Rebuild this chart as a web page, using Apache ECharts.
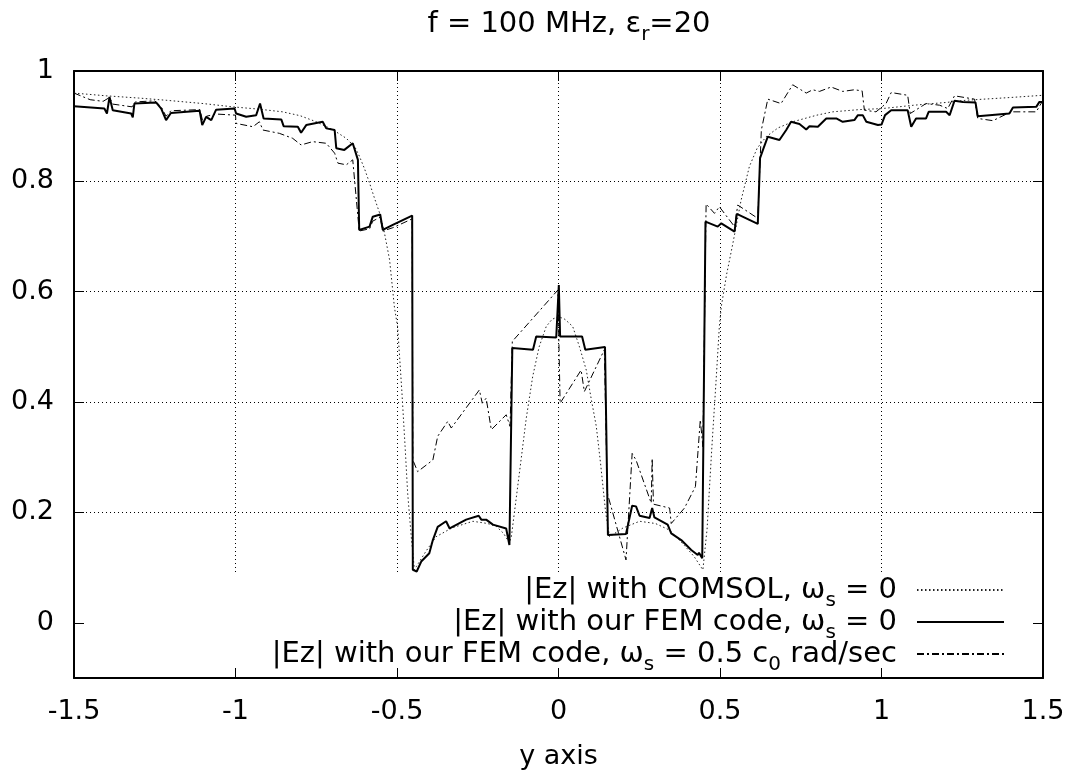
<!DOCTYPE html>
<html>
<head>
<meta charset="utf-8">
<title>|Ez| f = 100 MHz</title>
<script src="https://cdn.jsdelivr.net/npm/echarts@6/dist/echarts.min.js"></script>
<style>
  html, body { margin: 0; background: #fff; }
  #chart { width: 1077px; height: 782px; }
</style>
</head>
<body>
<div id="chart"></div>
<script>
const FONT = 'DejaVu Sans'

const xTicks = [-1.5, -1, -0.5, 0, 0.5, 1, 1.5]
const yTicks = [0, 0.2, 0.4, 0.6, 0.8, 1]

// |Ez| with COMSOL, omega_s = 0 (dotted)
const comsolPts = [
  [-1.5, 0.960], [-1.4, 0.955], [-1.3, 0.951], [-1.215, 0.947], [-1.1, 0.941], [-1.008, 0.935],
  [-0.93, 0.931], [-0.854, 0.926], [-0.8, 0.919], [-0.75, 0.908], [-0.7, 0.894], [-0.657, 0.878],
  [-0.63, 0.862], [-0.616, 0.845], [-0.6, 0.822], [-0.585, 0.797], [-0.57, 0.77], [-0.554, 0.743],
  [-0.54, 0.71], [-0.523, 0.658], [-0.508, 0.572], [-0.498, 0.536], [-0.485, 0.42], [-0.475, 0.32],
  [-0.467, 0.235], [-0.455, 0.15], [-0.446, 0.096], [-0.44, 0.102], [-0.41, 0.13], [-0.379, 0.156],
  [-0.33, 0.172], [-0.265, 0.184], [-0.22, 0.18], [-0.193, 0.175], [-0.17, 0.162], [-0.152, 0.145],
  [-0.146, 0.156], [-0.13, 0.23], [-0.116, 0.295], [-0.1, 0.37], [-0.08, 0.446], [-0.06, 0.50],
  [-0.038, 0.537], [-0.02, 0.55], [0, 0.555], [0.02, 0.55], [0.044, 0.537], [0.065, 0.50],
  [0.086, 0.458], [0.1, 0.41], [0.117, 0.356], [0.13, 0.29], [0.146, 0.2], [0.158, 0.156],
  [0.2, 0.172], [0.251, 0.184], [0.3, 0.18], [0.344, 0.168], [0.39, 0.14], [0.42, 0.12],
  [0.447, 0.096], [0.46, 0.17], [0.475, 0.32], [0.488, 0.44], [0.498, 0.537], [0.504, 0.573],
  [0.52, 0.63], [0.54, 0.688], [0.565, 0.765], [0.591, 0.827], [0.615, 0.86], [0.643, 0.881],
  [0.68, 0.897], [0.725, 0.908], [0.8, 0.92], [0.849, 0.926], [0.93, 0.93], [1.004, 0.932],
  [1.1, 0.938], [1.2, 0.943], [1.262, 0.947], [1.4, 0.952], [1.5, 0.956]
]

// |Ez| with our FEM code, omega_s = 0 (solid)
const femPts = [
  [-1.5, 0.936], [-1.406, 0.932], [-1.398, 0.923], [-1.39, 0.953], [-1.38, 0.929], [-1.323, 0.923],
  [-1.318, 0.916], [-1.313, 0.941], [-1.246, 0.943], [-1.23, 0.932], [-1.215, 0.911], [-1.2, 0.924],
  [-1.111, 0.928], [-1.103, 0.902], [-1.091, 0.917], [-1.075, 0.911], [-1.06, 0.930], [-1.003, 0.932],
  [-0.998, 0.923], [-0.967, 0.917], [-0.936, 0.920], [-0.924, 0.941], [-0.913, 0.914], [-0.858, 0.912],
  [-0.851, 0.900], [-0.807, 0.899], [-0.797, 0.888], [-0.781, 0.902], [-0.73, 0.908], [-0.719, 0.896],
  [-0.693, 0.893], [-0.688, 0.860], [-0.663, 0.857], [-0.637, 0.869], [-0.621, 0.839], [-0.617, 0.712],
  [-0.585, 0.718], [-0.575, 0.736], [-0.552, 0.740], [-0.544, 0.712], [-0.513, 0.721], [-0.453, 0.738],
  [-0.451, 0.096], [-0.439, 0.093], [-0.425, 0.111], [-0.4, 0.126], [-0.389, 0.15], [-0.374, 0.174],
  [-0.348, 0.184], [-0.337, 0.171], [-0.286, 0.187], [-0.247, 0.194], [-0.239, 0.187], [-0.224, 0.187],
  [-0.203, 0.178], [-0.162, 0.171], [-0.152, 0.141], [-0.143, 0.498], [-0.079, 0.495], [-0.069, 0.519],
  [-0.007, 0.517], [0.001, 0.612], [0.005, 0.519], [0.073, 0.519], [0.083, 0.495], [0.144, 0.5],
  [0.153, 0.159], [0.209, 0.161], [0.228, 0.212], [0.24, 0.211], [0.251, 0.194], [0.282, 0.19],
  [0.29, 0.208], [0.297, 0.191], [0.338, 0.178], [0.349, 0.162], [0.38, 0.15], [0.411, 0.132],
  [0.431, 0.123], [0.435, 0.127], [0.445, 0.117], [0.455, 0.727], [0.493, 0.718], [0.504, 0.724],
  [0.545, 0.709], [0.552, 0.741], [0.617, 0.723], [0.624, 0.842], [0.633, 0.857], [0.648, 0.881],
  [0.684, 0.875], [0.705, 0.893], [0.72, 0.908], [0.746, 0.904], [0.767, 0.894], [0.777, 0.9],
  [0.803, 0.899], [0.829, 0.914], [0.86, 0.914], [0.88, 0.908], [0.916, 0.911], [0.927, 0.92],
  [0.942, 0.92], [0.953, 0.908], [0.989, 0.902], [1.0, 0.903], [1.011, 0.92], [1.03, 0.929],
  [1.081, 0.929], [1.092, 0.899], [1.107, 0.914], [1.138, 0.914], [1.146, 0.926], [1.2, 0.926],
  [1.211, 0.92], [1.226, 0.946], [1.252, 0.944], [1.291, 0.943], [1.298, 0.918], [1.334, 0.92],
  [1.396, 0.923], [1.407, 0.934], [1.479, 0.935], [1.489, 0.944], [1.5, 0.944]
]

// |Ez| with our FEM code, omega_s = 0.5 c0 rad/sec (dash-dot)
const femSpinPts = [
  [-1.5, 0.96], [-1.45, 0.948], [-1.41, 0.945], [-1.39, 0.952], [-1.38, 0.94], [-1.32, 0.935],
  [-1.31, 0.944], [-1.25, 0.946], [-1.23, 0.935], [-1.215, 0.918], [-1.2, 0.928], [-1.11, 0.93],
  [-1.1, 0.905], [-1.09, 0.918], [-1.06, 0.922], [-1.0, 0.92], [-0.998, 0.905], [-0.946, 0.899],
  [-0.926, 0.908], [-0.915, 0.893], [-0.864, 0.887], [-0.823, 0.878], [-0.797, 0.866], [-0.761, 0.872],
  [-0.719, 0.869], [-0.693, 0.851], [-0.683, 0.833], [-0.657, 0.83], [-0.637, 0.839], [-0.632, 0.839],
  [-0.617, 0.71], [-0.585, 0.714], [-0.575, 0.728], [-0.552, 0.735], [-0.544, 0.71], [-0.513, 0.716],
  [-0.453, 0.732], [-0.451, 0.295], [-0.436, 0.274], [-0.389, 0.295], [-0.374, 0.338], [-0.343, 0.365],
  [-0.332, 0.353], [-0.245, 0.422], [-0.236, 0.398], [-0.224, 0.407], [-0.208, 0.35], [-0.162, 0.377],
  [-0.15, 0.356], [-0.143, 0.51], [-0.002, 0.603], [0.005, 0.398], [0.07, 0.458], [0.08, 0.419],
  [0.142, 0.495], [0.151, 0.235], [0.209, 0.114], [0.228, 0.307], [0.24, 0.295], [0.287, 0.217],
  [0.29, 0.298], [0.294, 0.215], [0.344, 0.208], [0.349, 0.18], [0.39, 0.208], [0.424, 0.247],
  [0.439, 0.368], [0.447, 0.319], [0.457, 0.759], [0.483, 0.742], [0.498, 0.754], [0.545, 0.718],
  [0.555, 0.757], [0.617, 0.733], [0.628, 0.893], [0.648, 0.949], [0.689, 0.941], [0.725, 0.975],
  [0.767, 0.96], [0.787, 0.966], [0.808, 0.963], [0.844, 0.971], [0.88, 0.963], [0.916, 0.966],
  [0.94, 0.964], [0.947, 0.929], [0.983, 0.926], [1.014, 0.941], [1.03, 0.961], [1.081, 0.956],
  [1.089, 0.923], [1.138, 0.941], [1.18, 0.938], [1.205, 0.932], [1.226, 0.955], [1.288, 0.949],
  [1.298, 0.914], [1.345, 0.91], [1.401, 0.926], [1.479, 0.926], [1.5, 0.947]
]

const subStyle = { fontFamily: FONT, fontSize: 20, color: '#000', lineHeight: 32, padding: [22, 0, 0, 0] }

// one legend per row so every sample line ends at the same x
function keyRow (name, top, label) {
  return {
    data: [name],
    top: top,
    right: 72,
    orient: 'vertical',
    align: 'right',
    padding: 0,
    itemWidth: 87,
    itemHeight: 14,
    selectedMode: false,
    itemStyle: { opacity: 0 }, // line only, no symbol
    formatter: function () { return label },
    textStyle: {
      fontFamily: FONT,
      fontSize: 29,
      color: '#000',
      lineHeight: 32,
      rich: {
        sub: subStyle,
        gap: { width: 15 }
      }
    }
  }
}

const gridLine = { show: true, lineStyle: { color: '#000', type: [1, 3], width: 1 } }
const frame = { show: true, onZero: false, lineStyle: { color: '#000', width: 2 } }
const tick = { show: true, inside: true, length: 10, lineStyle: { color: '#000', width: 1 } }
const tickFont = { fontFamily: FONT, fontSize: 27, color: '#000' }

const option = {
  animation: false,
  backgroundColor: '#fff',
  title: {
    text: 'f = 100 MHz, ε{sub|r}=20',
    left: 564,
    textAlign: 'center',
    top: 3,
    textStyle: {
      fontFamily: FONT,
      fontSize: 29,
      fontWeight: 'normal',
      color: '#000',
      lineHeight: 32,
      rich: { sub: subStyle }
    }
  },
  grid: { left: 74, right: 34, top: 71, bottom: 104, containLabel: false },
  legend: [
    keyRow('comsol', 569, '|Ez| with COMSOL, ω{sub|s} = 0{gap|}'),
    keyRow('fem', 601, '|Ez| with our FEM code, ω{sub|s} = 0{gap|}'),
    keyRow('femSpin', 633, '|Ez| with our FEM code, ω{sub|s} = 0.5 c{sub|0} rad/sec{gap|}')
  ],
  graphic: [
    // opaque key box, hides the grid behind the legend like gnuplot does
    { type: 'rect', left: 85, top: 572, z: 1, shape: { width: 948, height: 96 }, style: { fill: '#fff' } }
  ],
  xAxis: [
    {
      type: 'value',
      min: xTicks[0],
      max: xTicks[xTicks.length - 1],
      interval: 0.5,
      position: 'bottom',
      name: 'y axis',
      nameLocation: 'middle',
      nameGap: 65,
      nameTextStyle: tickFont,
      axisLine: frame,
      axisTick: tick,
      axisLabel: { ...tickFont, margin: 20, formatter: v => String(v) },
      splitLine: gridLine
    },
    {
      type: 'value',
      min: xTicks[0],
      max: xTicks[xTicks.length - 1],
      interval: 0.5,
      position: 'top',
      axisLine: frame,
      axisTick: tick,
      axisLabel: { show: false },
      splitLine: { show: false }
    }
  ],
  yAxis: [
    {
      type: 'value',
      min: -0.1,
      max: 1,
      position: 'left',
      axisLine: frame,
      axisTick: { ...tick, customValues: yTicks },
      axisLabel: { ...tickFont, margin: 20, customValues: yTicks, formatter: v => String(Math.round(v * 10) / 10) },
      splitLine: gridLine
    },
    {
      type: 'value',
      min: -0.1,
      max: 1,
      position: 'right',
      axisLine: frame,
      axisTick: { ...tick, customValues: yTicks },
      axisLabel: { show: false, customValues: yTicks },
      splitLine: { show: false }
    }
  ],
  series: [
    {
      name: 'comsol',
      type: 'line',
      data: comsolPts,
      symbol: 'none',
      z: 3,
      itemStyle: { color: '#000' },
      lineStyle: { color: '#222', width: 1, type: [1.5, 2.5] }
    },
    {
      name: 'fem',
      type: 'line',
      data: femPts,
      symbol: 'none',
      z: 4,
      itemStyle: { color: '#000' },
      lineStyle: { color: '#000', width: 2 }
    },
    {
      name: 'femSpin',
      type: 'line',
      data: femSpinPts,
      symbol: 'none',
      z: 3,
      itemStyle: { color: '#000' },
      lineStyle: { color: '#000', width: 1, type: [7, 3, 2, 3] }
    }
  ]
}

const chart = echarts.init(document.getElementById('chart'))
chart.setOption(option)
window.addEventListener('resize', function () { chart.resize() })
</script>
</body>
</html>
